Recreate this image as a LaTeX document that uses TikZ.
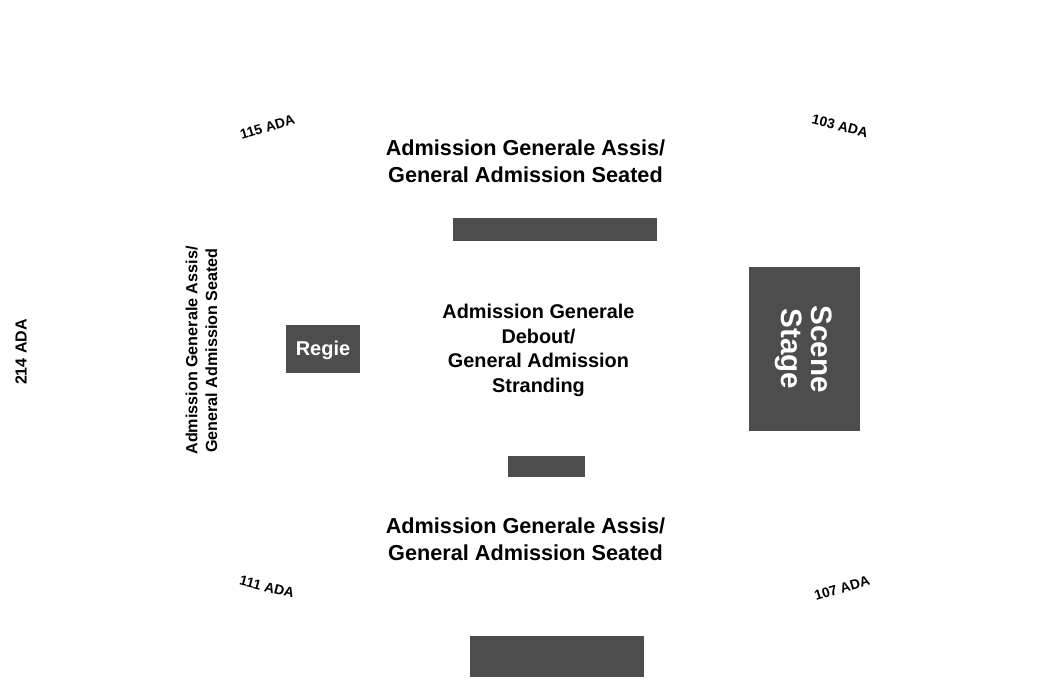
\documentclass[tikz,border=0pt]{standalone}
\usepackage{fontspec}
\setmainfont{Liberation Sans}
\definecolor{blk}{HTML}{4D4D4D}
\tikzset{
 x=0.75pt,y=-0.75pt,
 lab/.style={font=\bfseries\fontsize{16.25pt}{20pt}\selectfont,align=center,inner sep=0,text=black},
 mlab/.style={font=\bfseries\fontsize{14.9pt}{18.6pt}\selectfont,align=center,inner sep=0,text=black},
 vert/.style={font=\bfseries\fontsize{12.1pt}{14.8pt}\selectfont,align=center,inner sep=0,text=black},
 ada/.style={font=\bfseries\fontsize{10.4pt}{12pt}\selectfont,inner sep=0,text=black},
 wlab/.style={font=\bfseries\fontsize{15pt}{19pt}\selectfont,text=white,align=center,inner sep=0},
 slab/.style={font=\bfseries\fontsize{22.2pt}{22.2pt}\selectfont,text=white,align=center,inner sep=0},
}
\begin{document}
\begin{tikzpicture}
\useasboundingbox (0,0) rectangle (1050,700);
\fill[white] (0,0) rectangle (1050,700);
\fill[blk] (453,218) rectangle (657,241);
\fill[blk] (749,267) rectangle (860,431);
\fill[blk] (286,325) rectangle (360,373);
\fill[blk] (508,456) rectangle (584.5,477);
\fill[blk] (469.5,636) rectangle (643.5,677);
\node[lab] (top) at (525.5,161.5) {Admission Generale Assis/\\General Admission Seated};
\node[lab] (bot) at (525.5,539) {Admission Generale Assis/\\General Admission Seated};
\node[mlab] (mid) at (538.5,350.5) {Admission Generale\\Debout/\\General Admission\\Stranding};
\node[wlab] (regie) at (323,350) {Regie};
\node[slab,rotate=-90] (stage) at (803.5,349) {Scene\\Stage};
\node[vert,rotate=90] (left) at (201.5,350.5) {Admission Generale Assis/\\General Admission Seated};
\node[ada,rotate=90,font=\bfseries\fontsize{12pt}{12pt}\selectfont] (a214) at (21,352) {214 ADA};
\node[ada,rotate=17] (a115) at (267.5,127) {115 ADA};
\node[ada,rotate=-14] (a103) at (840,126) {103 ADA};
\node[ada,rotate=-14] (a111) at (267,587) {111 ADA};
\node[ada,rotate=17] (a107) at (842,588) {107 ADA};
\end{tikzpicture}
\end{document}
